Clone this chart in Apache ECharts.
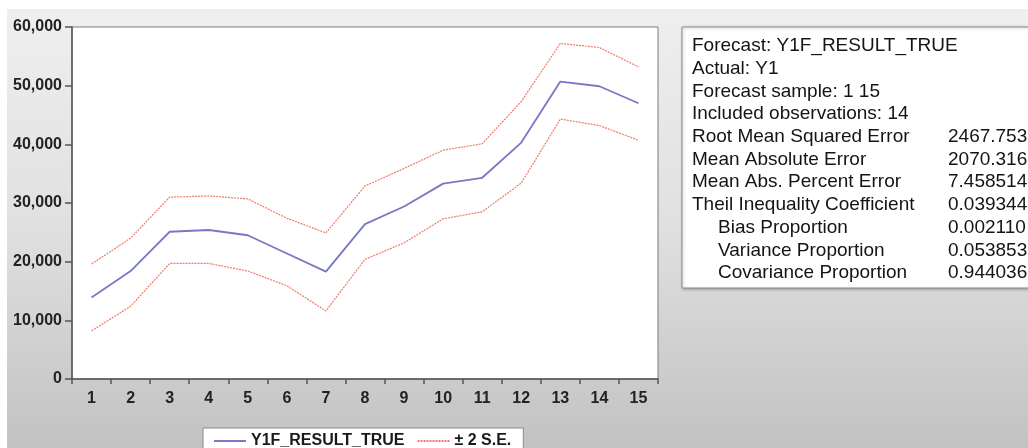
<!DOCTYPE html>
<html>
<head>
<meta charset="utf-8">
<script src="https://cdn.jsdelivr.net/npm/echarts@6/dist/echarts.min.js"></script>
<style>
  html, body { margin: 0; padding: 0; background: #fff; }
  #chart { width: 1028px; height: 448px; }
</style>
</head>
<body>
<div id="chart"></div>
<script>
const categories = ['1', '2', '3', '4', '5', '6', '7', '8', '9', '10', '11', '12', '13', '14', '15']
const forecast = [13900, 18400, 25100, 25400, 24500, 21400, 18300, 26400, 29400, 33300, 34300, 40300, 50700, 49900, 47000]
const upperSE = [19600, 24000, 31000, 31200, 30700, 27400, 24900, 32900, 35900, 39000, 40100, 47300, 57200, 56500, 53200]
const lowerSE = [8200, 12400, 19700, 19700, 18400, 15900, 11600, 20400, 23200, 27300, 28500, 33400, 44300, 43200, 40700]

const statLabels = [
  'Forecast: Y1F_RESULT_TRUE', 'Actual: Y1', 'Forecast sample: 1 15', 'Included observations: 14',
  'Root Mean Squared Error', 'Mean Absolute Error', 'Mean Abs. Percent Error', 'Theil Inequality Coefficient',
  '   Bias Proportion', '   Variance Proportion', '   Covariance Proportion',
]
const statValues = ['', '', '', '', '2467.753', '2070.316', '7.458514', '0.039344', '0.002110', '0.053853', '0.944036']

const FONT = '"Liberation Sans", Arial, sans-serif'
const chart = echarts.init(document.getElementById('chart'), null, { renderer: 'canvas' })

// stats box on the right
const statsGraphics = [
  {
    type: 'rect', z: 1,
    shape: { x: 682, y: 27, width: 360, height: 261 },
    style: { fill: '#fff', stroke: '#8a8a8a', lineWidth: 1, shadowBlur: 3, shadowColor: 'rgba(0,0,0,0.25)', shadowOffsetX: 1, shadowOffsetY: 1 },
  },
]
statLabels.forEach((txt, i) => {
  const y = 46 + i * 22.7
  const indent = txt.startsWith('   ')
  statsGraphics.push({
    type: 'text', z: 2, x: indent ? 718 : 692, y,
    style: { text: txt.trim(), font: `19px ${FONT}`, fill: '#141414', textVerticalAlign: 'middle' },
  })
  if (statValues[i]) {
    statsGraphics.push({
      type: 'text', z: 2, x: 948, y,
      style: { text: statValues[i], font: `19px ${FONT}`, fill: '#141414', textVerticalAlign: 'middle' },
    })
  }
})

const option = {
  animation: false,
  graphic: [
    {
      type: 'rect', z: -10, silent: true,
      shape: { x: 7, y: 9, width: 1021, height: 439 },
      style: {
        fill: new echarts.graphic.LinearGradient(0, 0, 0, 1, [
          { offset: 0, color: '#efefef' },
          { offset: 0.5, color: '#e0e0e0' },
          { offset: 1, color: '#c2c2c2' },
        ]),
      },
    },
    ...statsGraphics,
  ],
  grid: {
    left: 72, top: 27, width: 586, height: 352,
    show: true, backgroundColor: '#fff', borderColor: '#7a7a7a', borderWidth: 1,
  },
  legend: {
    left: 203, top: 428,
    backgroundColor: '#fff', borderColor: '#8a8a8a', borderWidth: 1,
    padding: [5, 12, 12, 10],
    itemWidth: 32, itemHeight: 10, itemGap: 12,
    itemStyle: { opacity: 0 },
    textStyle: { fontFamily: FONT, fontSize: 16, fontWeight: 'bold', color: '#1a1a1a' },
    data: ['Y1F_RESULT_TRUE', '± 2 S.E.'],
  },
  xAxis: {
    type: 'category',
    data: categories,
    boundaryGap: true,
    axisLine: { lineStyle: { color: '#555', width: 1.5 } },
    axisTick: { show: true, inside: false, length: 5, alignWithLabel: false, lineStyle: { color: '#555', width: 1.5 } },
    axisLabel: { margin: 12, fontFamily: FONT, fontSize: 16, fontWeight: 'bold', color: '#222' },
    splitLine: { show: false },
  },
  yAxis: {
    type: 'value',
    min: 0, max: 60000, interval: 10000,
    axisLine: { show: true, lineStyle: { color: '#555', width: 1.5 } },
    axisTick: { show: true, length: 7, lineStyle: { color: '#555', width: 1.5 } },
    axisLabel: {
      margin: 10, fontFamily: FONT, fontSize: 16, fontWeight: 'bold', color: '#222',
      formatter: v => v.toLocaleString('en-US'),
    },
    splitLine: { show: false },
  },
  series: [
    {
      name: 'Y1F_RESULT_TRUE', type: 'line', data: forecast,
      symbol: 'none', lineStyle: { color: '#7878c4', width: 1.8 }, itemStyle: { color: '#7878c4' },
    },
    {
      name: '± 2 S.E.', type: 'line', data: upperSE,
      symbol: 'none', lineStyle: { color: '#f07a6a', width: 1.2, type: [2, 1] }, itemStyle: { color: '#f07a6a' },
    },
    {
      name: '± 2 S.E.', type: 'line', data: lowerSE,
      symbol: 'none', lineStyle: { color: '#f07a6a', width: 1.2, type: [2, 1] }, itemStyle: { color: '#f07a6a' },
    },
  ],
}

chart.setOption(option)
</script>
</body>
</html>
